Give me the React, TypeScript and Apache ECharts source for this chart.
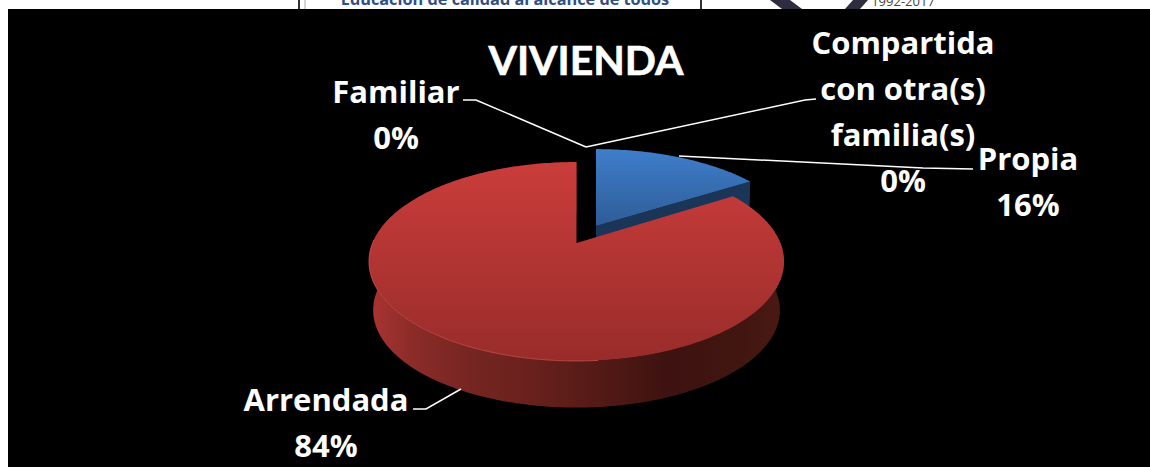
import React, { useEffect, useRef } from "react";
import * as echarts from "echarts";

const titleText = "VIVIENDA";
const categories = ["Propia", "Arrendada", "Familiar", "Compartida\ncon otra(s)\nfamilia(s)"];
const shares = [16, 84, 0, 0];

const labelAnchors = [
  [1028, 181],
  [326, 422],
  [396, 114],
  [903, 111],
];
const leaderLines = [
  [[679, 156], [923, 168], [973, 169]],
  [[461, 389], [426, 409], [413, 409]],
  [[586, 147], [476, 100], [463, 100]],
  [[586, 147], [805, 100], [816, 99]],
];

// perspective disc model
const persp = 0.186;
const radiusX = 203.9;
const radiusY = 96;
const sliceGeometry = [
  { cx: 596, cy: 226, sx: 0.985, sy: 0.95, depth: 40, lower: 0.98 },
  { cx: 576.5, cy: 243, sx: 1, sy: 1, depth: 49, lower: 0.98 },
  { cx: 576.5, cy: 243, sx: 1, sy: 1, depth: 49, lower: 0.98 },
  { cx: 576.5, cy: 243, sx: 1, sy: 1, depth: 49, lower: 0.98 },
];
const topGradients = [
  ["#3F7ECB", "#2E5C97"],
  ["#CA3D3B", "#982C2A"],
  ["#999999", "#777777"],
  ["#999999", "#777777"],
];

function project(deg: number, g: any, scale = 1, dy = 0) {
  const t = (deg * Math.PI) / 180;
  const u = Math.sin(t);
  const v = -Math.cos(t);
  const w = 1 - persp * v;
  return [g.cx + (g.sx * scale * radiusX * u) / w, g.cy + dy + (g.sy * scale * radiusY * v) / w];
}

function arc(start: number, end: number, g: any, scale = 1, dy = 0) {
  const pts: number[][] = [];
  const n = Math.max(2, Math.ceil(end - start));
  for (let i = 0; i <= n; i++) pts.push(project(start + ((end - start) * i) / n, g, scale, dy));
  return pts;
}

function renderSlice(params: any, api: any) {
  const i = params.dataIndex;
  const value = api.value(0);
  if (!value) return { type: "group", children: [] };
  const total = shares.reduce((a, b) => a + b, 0);
  let before = 0;
  for (let k = 0; k < i; k++) before += shares[k];
  const start = (before / total) * 360;
  const end = ((before + value) / total) * 360;
  const g = sliceGeometry[i];
  const topArc = arc(start, end, g);
  const apex = [g.cx, g.cy];
  const children: any[] = [];
  if (i === 0) {
    const tip = topArc[topArc.length - 1];
    children.push({
      type: "polygon",
      shape: { points: [apex, tip, [tip[0] - 1, tip[1] + g.depth], [apex[0], apex[1] + g.depth]] },
      style: { fill: "#1B3558" },
    });
  } else {
    const bottomArc = arc(start, end, g, g.lower, g.depth).reverse();
    children.push({
      type: "polygon",
      shape: { points: topArc.concat(bottomArc) },
      style: {
        fill: new echarts.graphic.LinearGradient(0, 0, 1, 0, [
          { offset: 0, color: "#AB3432" },
          { offset: 0.1, color: "#8C2C29" },
          { offset: 0.25, color: "#752522" },
          { offset: 0.38, color: "#6A211D" },
          { offset: 0.6, color: "#4E1814" },
          { offset: 0.72, color: "#3D1210" },
          { offset: 0.9, color: "#421610" },
          { offset: 1, color: "#4C1914" },
        ]),
      },
    });
  }
  children.push({
    type: "polygon",
    shape: { points: [apex, ...topArc] },
    style: {
      fill: new echarts.graphic.LinearGradient(0, 0, 0, 1, [
        { offset: 0, color: topGradients[i][0] },
        { offset: 1, color: topGradients[i][1] },
      ]),
    },
  });
  if (i === 1) {
    children.push({
      type: "polyline",
      shape: { points: arc(175, 272, g) },
      style: { fill: "none", stroke: "#C9504A", lineWidth: 1, opacity: 0.8 },
    });
  }
  return { type: "group", children };
}

export default function App() {
  const ref = useRef<HTMLDivElement>(null);
  useEffect(() => {
    const chart = echarts.init(ref.current!, null, { renderer: "svg" });
    const font = "'Open Sans', Lato, sans-serif";
    const graphics: any[] = [
      // page strip above the slide
      { type: "line", z: 1, shape: { x1: 299, y1: 0, x2: 299, y2: 9 }, style: { stroke: "#333", lineWidth: 2 } },
      { type: "line", z: 1, shape: { x1: 305, y1: 0, x2: 305, y2: 9 }, style: { stroke: "#aaa", lineWidth: 1 } },
      { type: "line", z: 1, shape: { x1: 701, y1: 0, x2: 701, y2: 9 }, style: { stroke: "#333", lineWidth: 2 } },
      {
        type: "text", z: 1,
        style: { text: "Educación de calidad al alcance de todos", x: 505, y: 7, align: "center", verticalAlign: "bottom", fill: "#2F4E87", font: `bold 16.3px ${font}` },
      },
      { type: "polygon", z: 1, shape: { points: [[770, 0], [790, 0], [802, 9], [782, 9]] }, style: { fill: "#2E2D40" } },
      { type: "polygon", z: 1, shape: { points: [[853, 0], [868, 0], [860, 9], [845, 9]] }, style: { fill: "#2E2D40" } },
      {
        type: "text", z: 1,
        style: { text: "1992-2017", x: 903, y: 7, align: "center", verticalAlign: "bottom", fill: "#444", font: `13px ${font}` },
      },
      // slide background
      { type: "rect", z: 2, shape: { x: 8, y: 9, width: 1142, height: 458 }, style: { fill: "#000" } },
    ];
    categories.forEach((name, i) => {
      graphics.push({
        type: "polyline", z: 20,
        shape: { points: leaderLines[i] },
        style: { fill: "none", stroke: "#fff", lineWidth: 1.5 },
      });
      graphics.push({
        type: "text", z: 21,
        style: {
          text: `${name}\n${shares[i]}%`,
          x: labelAnchors[i][0], y: labelAnchors[i][1],
          align: "center", verticalAlign: "middle",
          lineHeight: 46,
          fill: "#fff",
          font: `bold 31px ${font}`,
        },
      });
    });
    chart.setOption({
      animation: false,
      backgroundColor: "#fff",
      title: {
        text: titleText, left: 581, top: 34, textAlign: "center", z: 21,
        textStyle: { color: "#fff", fontFamily: "Lato, sans-serif", fontWeight: "bold", fontSize: 41, textBorderColor: "#fff", textBorderWidth: 0.6 },
      },
      graphic: { elements: graphics },
      series: [
        {
          type: "custom", coordinateSystem: "none", z: 10, silent: true,
          renderItem: renderSlice,
          data: shares.map((v) => [v]),
        },
      ],
    });
    return () => chart.dispose();
  }, []);
  return <div ref={ref} style={{ position: "fixed", left: 0, top: 0, width: 1150, height: 467 }} />;
}
